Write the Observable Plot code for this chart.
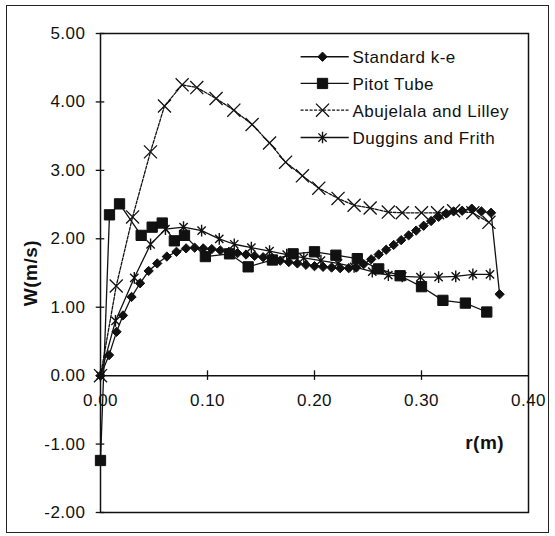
<!DOCTYPE html>
<html><head><meta charset="utf-8">
<script src="https://cdn.jsdelivr.net/npm/d3@7"></script>
<script src="https://cdn.jsdelivr.net/npm/@observablehq/plot@0.6"></script>
<style>
html,body{margin:0;padding:0;background:#fff;}
#wrap{position:relative;width:555px;height:536px;overflow:hidden;}
#border{position:absolute;left:6px;top:5px;width:543px;height:528px;border:1.5px solid #222;box-sizing:border-box;pointer-events:none;}
svg{display:block;}
</style></head><body><div id="wrap"><div id="border"></div></div>
<script>
// ---- data ----
const xTicks = [0, 0.1, 0.2, 0.3, 0.4];
const yTicks = [-2, -1, 0, 1, 2, 3, 4, 5];
const seriesNames = ["Standard k-e", "Pitot Tube", "Abujelala and Lilley", "Duggins and Frith"];

const keX = [0,0.008,0.015,0.021,0.029,0.037,0.045,0.053,0.062,0.071,0.080,0.088,0.096,0.104,0.112,0.120,0.128,0.136,0.144,0.152,0.160,0.168,0.176,0.184,0.192,0.200,0.208,0.216,0.224,0.232,0.239,0.246,0.253,0.260,0.267,0.274,0.281,0.288,0.295,0.302,0.309,0.316,0.323,0.330,0.338,0.347,0.356,0.365,0.373];
const keY = [0,0.30,0.64,0.88,1.15,1.35,1.53,1.64,1.74,1.81,1.86,1.87,1.86,1.85,1.83,1.81,1.79,1.77,1.75,1.73,1.71,1.68,1.66,1.64,1.62,1.60,1.59,1.58,1.57,1.57,1.58,1.63,1.70,1.77,1.84,1.91,1.98,2.05,2.12,2.19,2.26,2.32,2.37,2.40,2.41,2.44,2.40,2.38,1.19];

const pitotX = [0,0.0084,0.0178,0.038,0.0483,0.0577,0.069,0.0785,0.098,0.1206,0.138,0.1607,0.180,0.200,0.220,0.240,0.260,0.280,0.300,0.320,0.341,0.361];
const pitotY = [-1.24,2.35,2.51,2.05,2.17,2.23,1.97,2.05,1.74,1.78,1.59,1.69,1.78,1.81,1.76,1.71,1.56,1.46,1.30,1.10,1.06,0.93];

const abuX = [0,0.0147,0.030,0.0467,0.0598,0.0763,0.090,0.108,0.1246,0.1417,0.158,0.173,0.1887,0.204,0.222,0.237,0.252,0.269,0.282,0.300,0.315,0.330,0.348,0.363];
const abuY = [0,1.31,2.32,3.27,3.94,4.25,4.21,4.05,3.88,3.67,3.40,3.12,2.92,2.74,2.59,2.49,2.45,2.39,2.38,2.38,2.38,2.41,2.38,2.24];

const dugX = [0,0.014,0.0316,0.0468,0.0607,0.0776,0.0945,0.111,0.125,0.141,0.158,0.174,0.190,0.206,0.222,0.237,0.254,0.269,0.282,0.299,0.316,0.332,0.348,0.364];
const dugY = [0,0.80,1.43,1.92,2.14,2.17,2.12,2.00,1.92,1.87,1.82,1.77,1.72,1.68,1.64,1.59,1.52,1.47,1.45,1.44,1.44,1.45,1.48,1.48];

// ---- build ----
const rows = (xs, ys) => xs.map((x, i) => ({x, y: ys[i]}));
const ke = rows(keX, keY), pitot = rows(pitotX, pitotY), abu = rows(abuX, abuY), dug = rows(dugX, dugY);

const star = {draw(ctx, size) {
  const r = Math.sqrt(size) * 0.6, d = r * 0.7071;
  ctx.moveTo(0, -r); ctx.lineTo(0, r);
  ctx.moveTo(-d, -d); ctx.lineTo(d, d);
  ctx.moveTo(-d, d); ctx.lineTo(d, -d);
}};

const INK = "#111";
const styles = [
  {symbol: "diamond2", r: 4.2, fill: INK, stroke: INK, strokeWidth: 1, dash: null},
  {symbol: "square", r: 5.8, fill: INK, stroke: INK, strokeWidth: 1, dash: null},
  {symbol: "times", r: 6, fill: "none", stroke: INK, strokeWidth: 1.3, dash: "3,1.5"},
  {symbol: star, r: 5.5, fill: "none", stroke: INK, strokeWidth: 1.4, dash: null}
];

const font = "'Liberation Sans', Arial, sans-serif";
const legendY = [4.66, 4.27, 3.88, 3.48];
const legX1 = 0.187, legX2 = 0.232, legXm = 0.2075, legXt = 0.2355;

const legendMarks = seriesNames.flatMap((name, i) => {
  const s = styles[i];
  return [
    Plot.link([name], {x1: legX1, x2: legX2, y1: legendY[i], y2: legendY[i], stroke: INK, strokeWidth: 1.3, strokeDasharray: s.dash}),
    Plot.dot([name], {x: legXm, y: legendY[i], symbol: s.symbol, r: s.r, fill: s.fill, stroke: s.stroke, strokeWidth: s.strokeWidth}),
    Plot.text([name], {x: legXt, y: legendY[i], text: d => d, textAnchor: "start", lineAnchor: "middle", fontSize: 17, fill: INK, fontFamily: font, dy: 1})
  ];
});

const seriesData = [ke, pitot, abu, dug];
const drawOrder = [2, 3, 1, 0];
const seriesMarks = drawOrder.flatMap(i => {
  const s = styles[i];
  return [
    Plot.line(seriesData[i], {x: "x", y: "y", stroke: INK, strokeWidth: 1.3, strokeDasharray: s.dash}),
    Plot.dot(seriesData[i], {x: "x", y: "y", symbol: s.symbol, r: s.r, fill: s.fill, stroke: s.stroke, strokeWidth: s.strokeWidth})
  ];
});

const chart = Plot.plot({
  width: 555, height: 536,
  marginLeft: 100, marginRight: 27, marginTop: 33, marginBottom: 24,
  style: {fontFamily: font, background: "transparent", overflow: "visible"},
  x: {domain: [0, 0.4], axis: null},
  y: {domain: [-2, 5], axis: null},
  marks: [
    Plot.text(xTicks, {x: d => d, y: 0, dy: 25, text: d => d.toFixed(2), fontSize: 17, fill: INK, lineAnchor: "middle", textAnchor: "middle", fontFamily: font}),
    Plot.text(yTicks, {x: 0, y: d => d, dx: -15, text: d => d.toFixed(2), fontSize: 17, fill: INK, lineAnchor: "middle", textAnchor: "end", fontFamily: font}),
    Plot.frame({stroke: INK, strokeWidth: 1.5}),
    Plot.ruleY([0], {stroke: INK, strokeWidth: 1.5}),
    Plot.ruleX(xTicks.slice(1, 4), {y1: -0.07, y2: 0.07, stroke: INK, strokeWidth: 1.3}),
    Plot.ruleY(yTicks, {x1: -0.004, x2: 0.004, stroke: INK, strokeWidth: 1.3}),
    ...seriesMarks,
    ...legendMarks,
    Plot.text(["W(m/s)"], {frameAnchor: "left", dx: -70, dy: 0, rotate: -90, text: d => d, fontSize: 19, fontWeight: "bold", fill: INK, fontFamily: font, textAnchor: "middle", lineAnchor: "middle"}),
    Plot.text(["r(m)"], {x: 0.359, y: -0.99, text: d => d, fontSize: 19, fontWeight: "bold", fill: INK, fontFamily: font, textAnchor: "middle", lineAnchor: "middle"})
  ]
});
chart.querySelectorAll("text").forEach(t => t.style.letterSpacing = "0.5px");
document.getElementById("wrap").appendChild(chart);
</script>
</body></html>
